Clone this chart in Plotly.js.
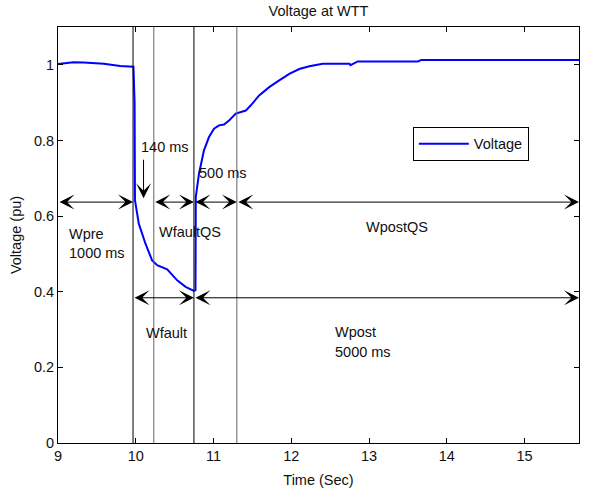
<!DOCTYPE html>
<html>
<head>
<meta charset="utf-8">
<script src="https://cdn.plot.ly/plotly-3.0.1.min.js"></script>
<style>html,body{margin:0;padding:0;background:#fff;}#chart{width:589px;height:494px;}</style>
</head>
<body>
<div id="chart"></div>
<script>
// Voltage trace
const timeSec = [9.00, 9.20, 9.33, 9.59, 9.80, 9.97, 9.985, 9.99, 10.039, 10.125, 10.21, 10.275, 10.404, 10.533, 10.641, 10.748, 10.768, 10.772, 10.813, 10.877, 10.942, 11.006, 11.071, 11.135, 11.200, 11.286, 11.415, 11.480, 11.587, 11.716, 11.845, 11.974, 12.103, 12.232, 12.404, 12.748, 12.761, 12.80, 12.855, 13.630, 13.673, 15.70];
const voltagePu = [1.002, 1.007, 1.006, 1.003, 0.997, 0.995, 0.90, 0.642, 0.580, 0.527, 0.483, 0.470, 0.459, 0.430, 0.413, 0.402, 0.404, 0.650, 0.712, 0.774, 0.809, 0.831, 0.840, 0.842, 0.853, 0.871, 0.879, 0.893, 0.919, 0.941, 0.959, 0.976, 0.989, 0.996, 1.003, 1.003, 0.999, 1.003, 1.009, 1.009, 1.013, 1.013];

// Window boundaries (s)
const windowTimes = [9.965, 10.232, 10.748, 11.30];
const windowColors = ['black', '#666666', 'black', '#666666'];
// Double arrows: [start, end] for each row
const upperLevel = 0.637;
const upperSpans = [[9.0, 9.965], [10.232, 10.748], [10.748, 11.30], [11.30, 15.7]];
const lowerLevel = 0.384;
const lowerSpans = [[9.965, 10.748], [10.748, 15.7]];
// Text labels
const labelTexts = ['140 ms', '500 ms', 'Wpre', '1000 ms', 'WfaultQS', 'WpostQS', 'Wfault', 'Wpost', '5000 ms'];
const labelX = [10.04, 10.79, 9.11, 9.11, 10.275, 12.94, 10.10, 12.53, 12.53];
const labelY = [0.782, 0.714, 0.552, 0.502, 0.558, 0.570, 0.290, 0.293, 0.240];
// Down arrow for 140 ms
const downArrow = {x: 10.10, yFrom: 0.753, yTo: 0.647};

const FONT = 'Liberation Sans, Arial, sans-serif';
const FS = 14.5;

const shapes = windowTimes.map((t, i) => ({
  type: 'line', xref: 'x', yref: 'paper', x0: t, x1: t, y0: 0, y1: 1,
  line: {color: windowColors[i], width: 1}
}));

const annotations = [];
function dbl(span, lvl) {
  annotations.push({
    x: span[1], y: lvl, ax: span[0], ay: lvl, xref: 'x', yref: 'y', axref: 'x', ayref: 'y',
    text: '', showarrow: true, arrowside: 'end+start', arrowhead: 3, startarrowhead: 3,
    arrowsize: 2.5, startarrowsize: 2.5, arrowwidth: 1, arrowcolor: 'black', standoff: 0, startstandoff: 0
  });
}
upperSpans.forEach(s => dbl(s, upperLevel));
lowerSpans.forEach(s => dbl(s, lowerLevel));
annotations.push({
  x: downArrow.x, y: downArrow.yTo, ax: downArrow.x, ay: downArrow.yFrom,
  xref: 'x', yref: 'y', axref: 'x', ayref: 'y', text: '', showarrow: true,
  arrowhead: 3, arrowsize: 2.5, arrowwidth: 1, arrowcolor: 'black', standoff: 0
});
labelTexts.forEach((t, i) => annotations.push({
  x: labelX[i], y: labelY[i], xref: 'x', yref: 'y', text: t, showarrow: false,
  xanchor: 'left', yanchor: 'middle', font: {family: FONT, size: FS, color: '#111'}
}));

const trace = {
  x: timeSec, y: voltagePu, type: 'scatter', mode: 'lines', name: 'Voltage',
  line: {color: '#0000ff', width: 2}
};

const axisCommon = {
  showline: true, linecolor: 'black', linewidth: 1, mirror: 'ticks',
  ticks: 'inside', ticklen: 5, tickcolor: 'black', showgrid: false, zeroline: false,
  tickfont: {family: FONT, size: FS, color: '#111'}
};

const layout = {
  width: 589, height: 494,
  margin: {l: 58, r: 10, t: 27, b: 51},
  paper_bgcolor: 'white', plot_bgcolor: 'white',
  font: {family: FONT, size: FS, color: '#111'},
  title: {text: 'Voltage at WTT', font: {family: FONT, size: FS, color: '#111'},
          x: 0.5, xref: 'paper', y: 1 - 11/494, yref: 'container', yanchor: 'middle'},
  xaxis: Object.assign({}, axisCommon, {range: [9, 15.7], dtick: 1, tick0: 9,
    title: {text: 'Time (Sec)', font: {family: FONT, size: FS, color: '#111'}, standoff: 11}}),
  yaxis: Object.assign({}, axisCommon, {range: [0, 1.1], dtick: 0.2, tick0: 0,
    title: {text: 'Voltage (pu)', font: {family: FONT, size: FS, color: '#111'}, standoff: 8}}),
  showlegend: true,
  legend: {x: 0.681, y: 0.76, xanchor: 'left', yanchor: 'top', bgcolor: 'white',
    bordercolor: 'black', borderwidth: 1, font: {family: FONT, size: FS, color: '#111'},
    itemwidth: 50, tracegroupgap: 0},
  shapes: shapes,
  annotations: annotations
};

Plotly.newPlot('chart', [trace], layout, {displayModeBar: false, staticPlot: true});
</script>
</body>
</html>
